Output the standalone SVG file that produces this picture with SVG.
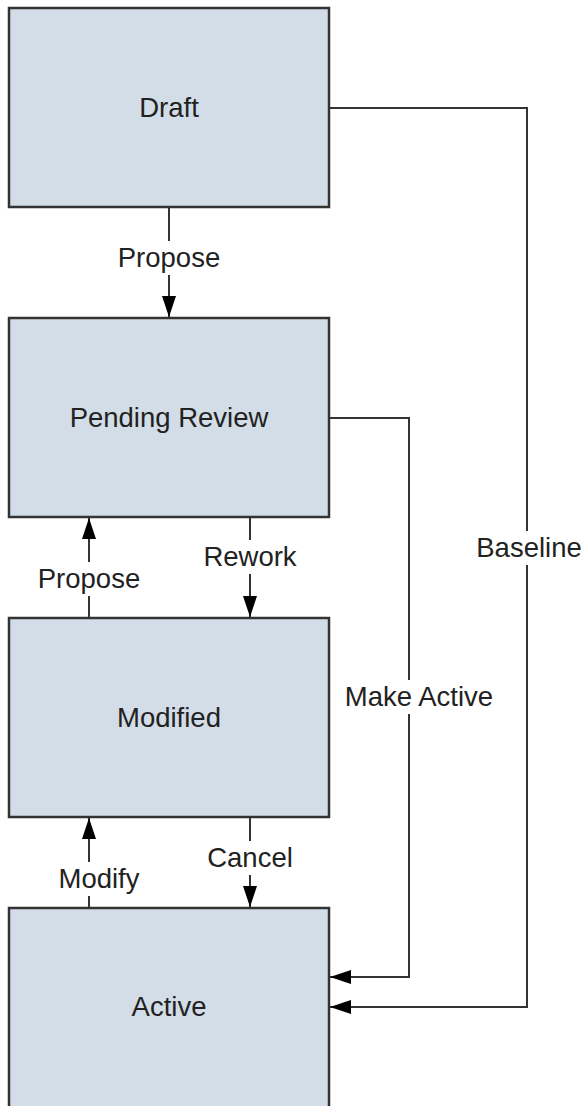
<svg xmlns="http://www.w3.org/2000/svg" width="584" height="1106" viewBox="0 0 584 1106">
<style>
.node rect{fill:#d3dde7;stroke:#333;stroke-width:2.5}
.node text{font-family:"Liberation Sans",Arial,sans-serif;font-size:27.5px;fill:#222;text-anchor:middle}
.edge{fill:none;stroke:#333;stroke-width:2}
.lbl{font-family:"Liberation Sans",Arial,sans-serif;font-size:27.5px;fill:#222;text-anchor:middle}
.bg{fill:#fff}
</style>
<defs>
<marker id="arr" markerUnits="userSpaceOnUse" markerWidth="22" markerHeight="14" viewBox="0 0 22 14" refX="21" refY="7" orient="auto">
<path d="M0,0 L21,7 L0,14 Z" fill="#000"/>
</marker>
</defs>
<rect width="584" height="1106" fill="#fff"/>
<g id="connectors">
<path class="edge" d="M169,207 V317" marker-end="url(#arr)"/>
<path class="edge" d="M250,517 V617" marker-end="url(#arr)"/>
<path class="edge" d="M89,618 V518" marker-end="url(#arr)"/>
<path class="edge" d="M250,817 V907" marker-end="url(#arr)"/>
<path class="edge" d="M89,908 V818" marker-end="url(#arr)"/>
<path class="edge" d="M329,418 H409 V977 H330" marker-end="url(#arr)"/>
<path class="edge" d="M329,108 H527 V1007 H330" marker-end="url(#arr)"/>
<rect class="bg" x="108" y="241" width="122" height="34"/>
<text class="lbl" x="169" y="267">Propose</text>
<rect class="bg" x="192" y="540" width="116" height="34"/>
<text class="lbl" x="250" y="566">Rework</text>
<rect class="bg" x="28" y="562" width="122" height="34"/>
<text class="lbl" x="89" y="588">Propose</text>
<rect class="bg" x="196" y="841" width="108" height="34"/>
<text class="lbl" x="250" y="867">Cancel</text>
<rect class="bg" x="48" y="862" width="102" height="34"/>
<text class="lbl" x="99" y="888">Modify</text>
<rect class="bg" x="336" y="680" width="166" height="34"/>
<text class="lbl" x="419" y="706">Make Active</text>
<rect class="bg" x="468" y="531" width="116" height="34"/>
<text class="lbl" x="529" y="557">Baseline</text>
</g>
<g id="draft" class="node"><rect x="9" y="8" width="320" height="199"/><text x="169" y="117">Draft</text></g>
<g id="pending-review" class="node"><rect x="9" y="318" width="320" height="199"/><text x="169" y="427">Pending Review</text></g>
<g id="modified" class="node"><rect x="9" y="618" width="320" height="199"/><text x="169" y="727">Modified</text></g>
<g id="active" class="node"><rect x="9" y="908" width="320" height="200"/><text x="169" y="1016">Active</text></g>
</svg>
